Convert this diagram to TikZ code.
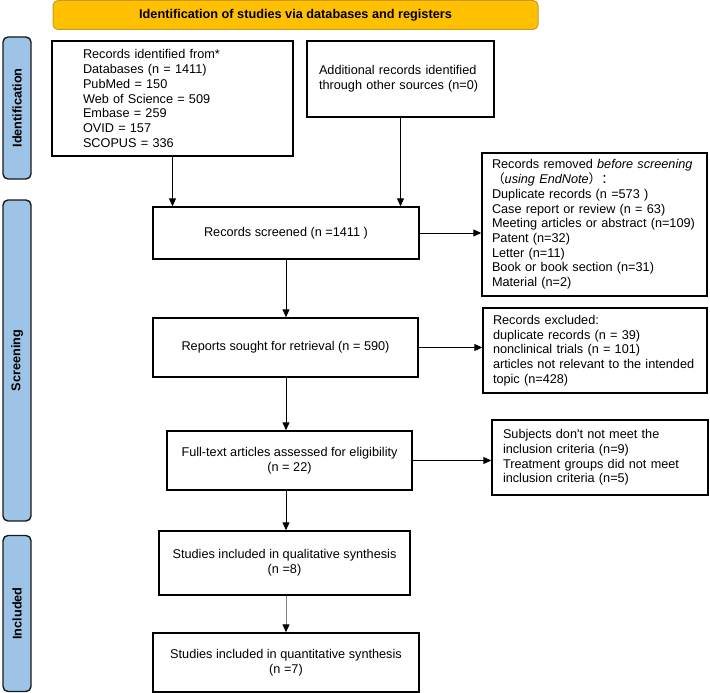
\documentclass[tikz,border=0pt]{standalone}
\usepackage{fontspec}
\setmainfont{Liberation Sans}
\newfontfamily\cjk{Noto Sans CJK SC}
\usetikzlibrary{arrows.meta}

\definecolor{titlegold}{HTML}{FFC000}
\definecolor{titleedge}{HTML}{C99A1E}
\definecolor{phaseblue}{HTML}{9DC3E6}

\tikzset{
  box/.style={draw, line width=1.4pt, inner sep=0pt, font=\fontsize{12.7}{14.7}\selectfont},
  leftbox/.style={box, align=left},
  midbox/.style={box, align=center},
  phase/.style={draw=black!90, line width=1.4pt, fill=phaseblue, rounded corners=5pt, rotate=90,
    inner sep=0pt, minimum height=28pt, font=\fontsize{12.7}{14.7}\selectfont\bfseries},
  arrow/.style={line width=0.9pt, -{Triangle[length=8pt,width=7pt,color=black]}},
}

\begin{document}
\begin{tikzpicture}[x=1pt, y=-1pt]
    \useasboundingbox (0,0) rectangle (710,693);

    \node[fill=titlegold, draw=titleedge, line width=1pt, rounded corners=5pt, minimum width=485pt,
      minimum height=29pt, font=\fontsize{12.7}{14.7}\selectfont\bfseries] (title) at (295.5,15)
      {Identification of studies via databases and registers};

    \node[phase, minimum width=142pt] (identification) at (17,108) {Identification};
    \node[phase, minimum width=321pt] (screening) at (17,360.5) {Screening};
    \node[phase, minimum width=156pt] (included) at (17,613.5) {Included};

    \node[leftbox, text width=179pt, inner xsep=31pt, minimum height=115pt] (records) at (172.5,98.5)
      {Records identified from*\\ Databases (n = 1411)\\ PubMed = 150\\ Web of Science = 509\\
       Embase = 259\\ OVID = 157\\ SCOPUS = 336};
    \node[leftbox, text width=163pt, inner xsep=12pt, minimum height=76pt] (other) at (400.5,79)
      {Additional records identified\\ through other sources (n=0)};

    \node[midbox, minimum width=266pt, minimum height=52pt] (screened) at (286,233) {Records screened (n =1411 )};
    \node[leftbox, text width=205pt, inner xsep=10pt, minimum height=143pt] (removed) at (594.5,224.5)
      {Records removed \textit{before screening}\\ {\cjk （}\textit{using EndNote}{\cjk ）：}\\
       Duplicate records (n =573 )\\ Case report or review (n = 63)\\ Meeting articles or abstract (n=109)\\
       Patent (n=32)\\ Letter (n=11)\\ Book or book section (n=31)\\ Material (n=2)};

    \node[midbox, minimum width=265pt, minimum height=59pt] (reports) at (285.5,347.5) {Reports sought for retrieval (n = 590)};
    \node[leftbox, text width=204pt, inner xsep=10pt, minimum height=85pt] (excluded) at (595,350.5)
      {Records excluded:\\ duplicate records (n = 39)\\ nonclinical trials (n = 101)\\
       articles not relevant to the intended\\ topic (n=428)};

    \node[midbox, minimum width=245pt, minimum height=59pt] (fulltext) at (289.5,460.5)
      {Full-text articles assessed for eligibility\\ (n = 22)};
    \node[leftbox, text width=194pt, inner xsep=11pt, minimum height=75pt] (subjects) at (600,457.5)
      {Subjects don\textquotesingle t not meet the\\ inclusion criteria (n=9)\\ Treatment groups did not meet\\
       inclusion criteria (n=5)};

    \node[midbox, minimum width=251pt, minimum height=64pt] (qual) at (284.5,563)
      {Studies included in qualitative synthesis\\ (n =8)};
    \node[midbox, minimum width=266pt, minimum height=59pt] (quant) at (286,662.5)
      {Studies included in quantitative synthesis\\ (n =7)};

    \draw[arrow] (records.south) -- (records.south |- screened.north);
    \draw[arrow] (other.south) -- (other.south |- screened.north);

    \foreach \a/\b in {screened/reports, reports/fulltext, fulltext/qual}{
      \draw[arrow] (screened.south |- \a.south) -- (screened.south |- \b.north);
    }
    \draw[arrow, gray] (screened.south |- qual.south) -- (screened.south |- quant.north);

    \foreach \a/\b in {screened/removed, reports/excluded, fulltext/subjects}{
      \draw[arrow] (\a.east) -- (\a.east -| \b.west);
    }
\end{tikzpicture}
\end{document}
